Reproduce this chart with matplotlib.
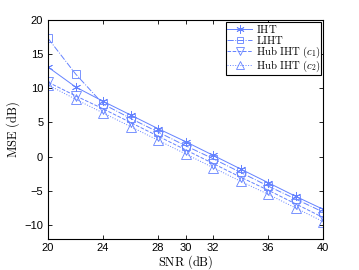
import numpy as np
import matplotlib
matplotlib.use("Agg")
import matplotlib.pyplot as plt

plt.rcParams['mathtext.fontset'] = 'cm'
plt.rcParams['font.family'] = ['Liberation Sans', 'DejaVu Sans']

snr = [20, 22, 24, 26, 28, 30, 32, 34, 36, 38, 40]
mse_iht = [13.1, 10.2, 8.1, 6.1, 4.1, 2.2, 0.2, -1.8, -3.8, -5.8, -7.7]
mse_liht = [17.3, 12.1, 7.7, 5.6, 3.6, 1.6, -0.3, -2.3, -4.3, -6.2, -8.1]
mse_hub1 = [10.9, 8.9, 7.0, 5.0, 3.0, 1.0, -1.0, -3.0, -4.9, -6.9, -8.9]
mse_hub2 = [10.5, 8.4, 6.4, 4.4, 2.4, 0.4, -1.6, -3.6, -5.5, -7.5, -9.5]

xticks = [20, 24, 28, 30, 32, 36, 40]
yticks = [-10, -5, 0, 5, 10, 15, 20]

col = '#6482ff'

fig = plt.figure(figsize=(3.59, 2.70), dpi=100)
ax = fig.add_axes([0.134, 0.116, 0.766, 0.81])

ax.plot(snr, mse_iht, '-', marker=(6, 2, 0), color=col, lw=0.7, ms=6.5, mew=0.6,
        label=r'$\mathrm{IHT}$')
ax.plot(snr, mse_liht, '-.', marker='s', color=col, lw=0.7, ms=5.5, mew=0.6,
        mfc='none', label=r'$\mathrm{LIHT}$')
ax.plot(snr, mse_hub1, '--', marker='v', color=col, lw=0.7, ms=6.5, mew=0.6,
        mfc='none', label=r'$\mathrm{Hub\ IHT}\ (c_1)$')
ax.plot(snr, mse_hub2, ':', marker='^', color=col, lw=0.7, ms=6.5, mew=0.6,
        mfc='none', label=r'$\mathrm{Hub\ IHT}\ (c_2)$')

ax.set_xlim(20, 40)
ax.set_ylim(-12, 20)
ax.set_xticks(xticks)
ax.set_yticks(yticks)
ax.tick_params(direction='in', length=3, width=0.6, labelsize=8, top=True, right=True,
               colors='black')
ax.tick_params(axis='x', pad=3)
for s in ax.spines.values():
    s.set_linewidth(0.8)

ax.set_xlabel(r'$\mathrm{SNR\ (dB)}$', fontsize=9, labelpad=0)
ax.set_ylabel(r'$\mathrm{MSE\ (dB)}$', fontsize=9, labelpad=2)

leg = ax.legend(loc='upper right', fontsize=7.8, handlelength=2.3, handletextpad=0.3,
                labelspacing=-0.1, borderpad=0.1, borderaxespad=0.15, fancybox=False,
                framealpha=1, markerscale=0.9)
leg.get_frame().set_edgecolor('black')
leg.get_frame().set_linewidth(0.8)

fig.savefig('out.png', dpi=100)
